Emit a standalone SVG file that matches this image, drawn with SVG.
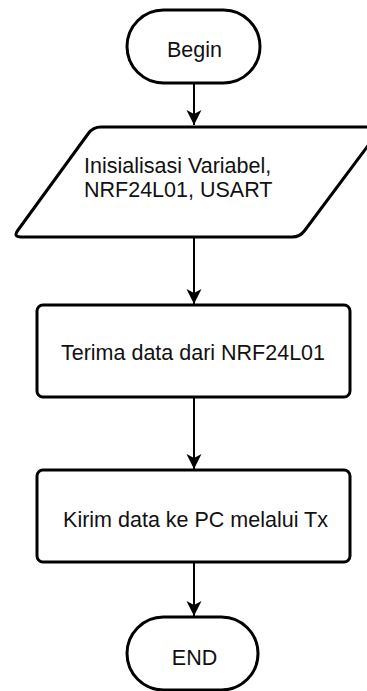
<svg xmlns="http://www.w3.org/2000/svg" width="367" height="691" viewBox="0 0 367 691">
  <style>
    .shape { fill: #ffffff; stroke: #000000; stroke-width: 3; }
    .lbl { font-family: "Liberation Sans", Arial, sans-serif; font-size: 21.5px; fill: #111111; }
    .mid { text-anchor: middle; }
    .conn { stroke: #000000; stroke-width: 2; fill: none; marker-end: url(#arr); }
  </style>
  <defs>
    <marker id="arr" markerUnits="userSpaceOnUse" markerWidth="16" markerHeight="16" refX="15" refY="8" orient="auto">
      <path d="M0,0.5 L15,8 L0,15.5 L4,8 Z" fill="#000000"/>
    </marker>
  </defs>
  <rect width="367" height="691" fill="#ffffff"/>

  <g id="connectors">
    <line class="conn" x1="194" y1="84" x2="194" y2="125"/>
    <line class="conn" x1="194" y1="238" x2="194" y2="304"/>
    <line class="conn" x1="194" y1="398" x2="194" y2="469"/>
    <line class="conn" x1="194" y1="563" x2="194" y2="616"/>
  </g>

  <g id="begin">
    <rect class="shape" x="127" y="10" width="133" height="73" rx="36.5" ry="36.5"/>
    <text class="lbl mid" x="194.5" y="57">Begin</text>
  </g>

  <g id="init">
    <path class="shape" d="M101,127 L382,127 L304.7,230.5 Q300,237 292,237 L21,237 Q13,237 17.7,230.5 L88.3,133.5 Q93,127 101,127 Z"/>
    <text class="lbl" x="84" y="173">Inisialisasi Variabel,</text>
    <text class="lbl" x="84" y="197">NRF24L01, USART</text>
  </g>

  <g id="terima">
    <rect class="shape" x="37" y="305" width="313" height="92" rx="6" ry="6"/>
    <text class="lbl mid" x="193" y="360">Terima data dari NRF24L01</text>
  </g>

  <g id="kirim">
    <rect class="shape" x="37" y="470" width="313" height="92" rx="6" ry="6"/>
    <text class="lbl mid" x="195.5" y="527">Kirim data ke PC melalui Tx</text>
  </g>

  <g id="end">
    <rect class="shape" x="127" y="617" width="131" height="73" rx="36.5" ry="36.5"/>
    <text class="lbl mid" x="194.5" y="665">END</text>
  </g>
</svg>
